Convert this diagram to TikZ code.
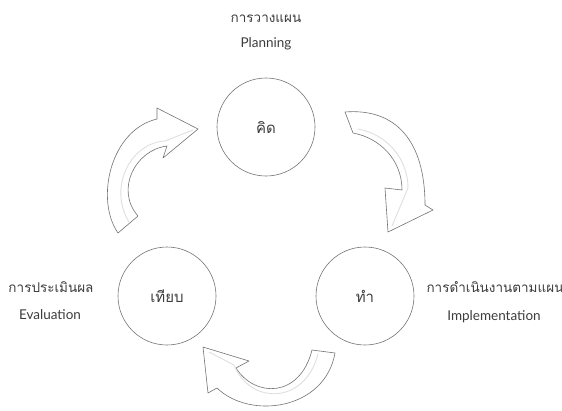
\documentclass[tikz,border=0pt]{standalone}
\usepackage{fontspec}
\setmainfont[Script=Thai]{Loma}
\newfontfamily\latinfont{Lato}
\usetikzlibrary{positioning}
\definecolor{inkgray}{RGB}{60,60,60}
\definecolor{ringgray}{RGB}{115,115,115}

\begin{document}
\begin{tikzpicture}[x=1pt, y=-1pt,
  stage/.style={draw=ringgray, circle, line width=0.6pt, minimum size=98pt,
                inner sep=0pt, font=\fontsize{15}{18}\selectfont, text=inkgray},
  lbl/.style={font=\fontsize{13.5}{16}\selectfont, text=inkgray, inner sep=0pt, anchor=base},
  lbllat/.style={lbl, font=\fontsize{13.5}{16}\selectfont\latinfont},
  bigarrow/.style={draw=ringgray, fill=white, line width=0.6pt, line join=round},
  shine/.style={draw=gray!25, line width=0.9pt, line cap=round},
]
\useasboundingbox (0,0) rectangle (562,410);

% Stages
\node[stage] (think) at (266,127) {คิด};
\node[stage] (check) at (167,296) {เทียบ};
\node[stage] (do) at (365,296) {ทำ};

% Labels
\node[lbl] (planth) at (266,22) {การวางแผน};
\node[lbllat] (planen) at (266,47) {Planning};
\node[lbl] (evalth) at (51,292) {การประเมินผล};
\node[lbllat] (evalen) at (50,319) {Evaluation};
\node[lbl] (implth) at (495,292) {การดำเนินงานตามแผน};
\node[lbllat] (implen) at (494,320) {Implementation};

% Think -> do
\draw[bigarrow] (345,112) .. controls (395,108) and (425,140) .. (425,205)
  -- (433,210) -- (388,232) -- (385,188) -- (402,190)
  .. controls (402,160) and (380,138) .. (353,133) -- cycle;
\draw[shine] (358,129) .. controls (386,134) and (408,158) .. (408,188) -- (392,226);

% Do -> check
\draw[bigarrow] (312,350) -- (335,353) .. controls (325,410) and (250,420) .. (217,388)
  -- (208,393) -- (203,347) -- (249,361) -- (236,368)
  .. controls (255,398) and (300,398) .. (312,350) -- cycle;
\draw[shine] (209,352) -- (234,365) .. controls (250,405) and (305,405) .. (318,354);

% Check -> think
\draw[bigarrow] (118,233) .. controls (95,200) and (110,130) .. (157,119)
  -- (157,108) -- (198,129) -- (163,158) -- (167,146)
  .. controls (135,150) and (115,190) .. (138,216) -- cycle;
\draw[shine] (129,222) .. controls (108,188) and (130,143) .. (165,141) -- (193,130);
\end{tikzpicture}
\end{document}
